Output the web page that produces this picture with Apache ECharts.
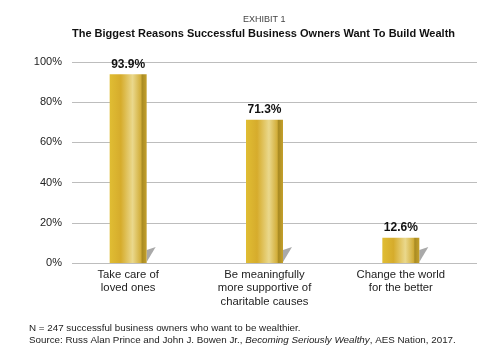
<!DOCTYPE html>
<html>
<head>
<meta charset="utf-8">
<script src="https://cdn.jsdelivr.net/npm/echarts@6/dist/echarts.min.js"></script>
<style>
  html, body { margin: 0; padding: 0; background: #fff; }
  #chart { width: 504px; height: 352px; }
</style>
</head>
<body>
<div id="chart"></div>
<script>
const categories = ['Take care of\nloved ones', 'Be meaningfully\nmore supportive of\ncharitable causes', 'Change the world\nfor the better']
const values = [93.9, 71.3, 12.6]
const yTicks = [0, 20, 40, 60, 80, 100]

const font = 'Liberation Sans, Arial, sans-serif'
const barW = 37

const gold = new echarts.graphic.LinearGradient(0, 0, 1, 0, [
  { offset: 0, color: '#E0BD33' },
  { offset: 0.3, color: '#D6AC2C' },
  { offset: 0.62, color: '#EAD88C' },
  { offset: 0.84, color: '#D2AE3A' },
  { offset: 0.88, color: '#A98B22' },
  { offset: 1, color: '#C4A02C' }
])

const chart = echarts.init(document.getElementById('chart'))
chart.setOption({
  animation: false,
  title: [
    {
      text: 'EXHIBIT 1',
      left: 238,
      top: 10,
      textStyle: { fontFamily: font, fontSize: 9, fontWeight: 'normal', color: '#444' }
    },
    {
      text: 'The Biggest Reasons Successful Business Owners Want To Build Wealth',
      left: 67,
      top: 23,
      textStyle: { fontFamily: font, fontSize: 11, fontWeight: 'bold', color: '#111' }
    },
    {
      text: 'N = 247 successful business owners who want to be wealthier.\n{n|Source: Russ Alan Prince and John J. Bowen Jr., }{i|Becoming Seriously Wealthy}{n|, AES Nation, 2017.}',
      left: 24,
      top: 317,
      textStyle: {
        fontFamily: font, fontSize: 9.8, fontWeight: 'normal', color: '#222', lineHeight: 12,
        rich: {
          n: { fontFamily: font, fontSize: 9.8, color: '#222', lineHeight: 12 },
          i: { fontFamily: font, fontSize: 9.8, color: '#222', fontStyle: 'italic', lineHeight: 12 }
        }
      }
    }
  ],
  grid: [
    { left: 72, right: 27, top: 62, bottom: 89 },
    { left: 60, right: 35, top: 62, bottom: 89 }
  ],
  xAxis: [
    { gridIndex: 0, type: 'value', show: false, min: 0, max: 1 },
    {
      gridIndex: 1,
      type: 'category',
      data: categories,
      axisLine: { show: false },
      axisTick: { show: false },
      axisLabel: { fontFamily: font, fontSize: 11.3, color: '#222', lineHeight: 13.5, margin: 5, interval: 0 }
    }
  ],
  yAxis: [
    {
      gridIndex: 0,
      type: 'value',
      min: yTicks[0],
      max: yTicks[yTicks.length - 1],
      interval: 20,
      axisLine: { show: false },
      axisTick: { show: false },
      axisLabel: { fontFamily: font, fontSize: 11, color: '#222', margin: 10, formatter: '{value}%' },
      splitLine: { lineStyle: { color: '#bdbdbd', width: 1 } }
    },
    { gridIndex: 1, type: 'value', min: 0, max: 100, show: false }
  ],
  series: [
    {
      type: 'custom',
      xAxisIndex: 1,
      yAxisIndex: 1,
      data: values.map((v, i) => [i, v]),
      z: 1,
      renderItem(params, api) {
        const base = api.coord([api.value(0), 0])
        const xr = base[0] + barW / 2
        const y0 = base[1]
        return {
          type: 'polygon',
          shape: { points: [[xr, y0 - 1], [xr, y0 - 13], [xr + 9, y0 - 16]] },
          style: { fill: '#a9a9a9' }
        }
      }
    },
    {
      type: 'bar',
      xAxisIndex: 1,
      yAxisIndex: 1,
      data: values,
      barWidth: barW,
      z: 2,
      itemStyle: { color: gold },
      label: {
        show: true,
        position: 'top',
        distance: 4,
        formatter: '{c}%',
        fontFamily: font,
        fontSize: 12,
        fontWeight: 'bold',
        color: '#111'
      }
    }
  ]
})
</script>
</body>
</html>
